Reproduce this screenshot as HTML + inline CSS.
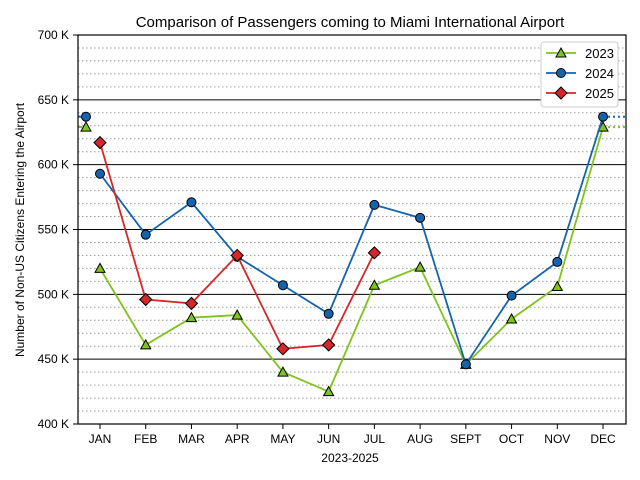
<!DOCTYPE html>
<html><head><meta charset="utf-8"><style>
body{margin:0;background:#fff;}
svg{display:block;font-family:"Liberation Sans",sans-serif;}
</style></head><body>
<svg id="chart" width="640" height="480" xmlns="http://www.w3.org/2000/svg">
<rect width="640" height="480" fill="#fff"/>
<text x="350" y="27" text-anchor="middle" font-size="15">Comparison of Passengers coming to Miami International Airport</text>
<text x="350" y="462" text-anchor="middle" font-size="12">2023-2025</text>
<text transform="translate(24,230) rotate(-90)" text-anchor="middle" font-size="12">Number of Non-US Citizens Entering the Airport</text>
<g id="grid"></g><g id="series"></g><g id="axes"></g>
<g>
<rect x="541" y="42" width="77" height="65" rx="3" fill="#fff" stroke="#ccc"/>
<line x1="546" y1="53" x2="576" y2="53" stroke="#7fc31c" stroke-width="1.8"/>
<path d="M561,48 L566,57 L556,57 Z" fill="#7fc31c" stroke="#000" stroke-width="1"/>
<text x="585" y="58" font-size="13">2023</text>
<line x1="546" y1="73" x2="576" y2="73" stroke="#1563ad" stroke-width="1.8"/>
<circle cx="561" cy="73" r="4.5" fill="#1563ad" stroke="#000"/>
<text x="585" y="78" font-size="13">2024</text>
<line x1="546" y1="93" x2="576" y2="93" stroke="#d62728" stroke-width="1.8"/>
<path d="M561,87 L567,93 L561,99 L555,93 Z" fill="#d62728" stroke="#000"/>
<text x="585" y="98" font-size="13">2025</text>
</g>
</svg>
<script>
const months=["JAN","FEB","MAR","APR","MAY","JUN","JUL","AUG","SEPT","OCT","NOV","DEC"];
const v2023=[520,461,482,484,440,425,507,521,446,481,506,629];
const v2024=[593,546,571,529,507,485,569,559,446,499,525,637];
const v2025=[617,496,493,530,458,461,532];
const yTicks=[400,450,500,550,600,650,700];
const NS="http://www.w3.org/2000/svg";
const L=78,R=626,T=35,B=424,x0=100,step=45.73;
const x=i=>x0+i*step;
const y=v=>B-(v-400)/300*(B-T);
function el(p,t,a){const e=document.createElementNS(NS,t);for(const k in a)e.setAttribute(k,a[k]);p.appendChild(e);return e;}
const grid=document.getElementById('grid'),axes=document.getElementById('axes'),ser=document.getElementById('series');
for(let v=410;v<700;v+=10){if(v%50===0)continue;const g=el(grid,'line',{x1:L,x2:R,y1:y(v),y2:y(v),stroke:'#999','stroke-dasharray':'1.5,2.5','stroke-width':1});

}
yTicks.forEach(v=>{const g=el(grid,'line',{x1:L,x2:R,y1:y(v),y2:y(v),stroke:'#000','stroke-width':1});


el(axes,'line',{x1:L-5,x2:L,y1:y(v),y2:y(v),stroke:'#000'});
const t=el(axes,'text',{x:L-9,y:y(v)+4,'text-anchor':'end','font-size':12});t.textContent=v+' K';

});
months.forEach((m,i)=>{el(axes,'line',{x1:x(i),x2:x(i),y1:B,y2:B+5,stroke:'#000'});
const t=el(axes,'text',{x:x(i),y:B+19,'text-anchor':'middle','font-size':12});t.textContent=m;

});
const fr=el(axes,'rect',{x:L,y:T,width:R-L,height:B-T,fill:'none',stroke:'#000','stroke-width':1.2});


function marker(g,kind,cx,cy,col){
 if(kind==='tri')return el(g,'path',{d:`M${cx},${cy-5} L${cx+5},${cy+4} L${cx-5},${cy+4} Z`,fill:col,stroke:'#000'});
 if(kind==='circ')return el(g,'circle',{cx,cy,r:4.5,fill:col,stroke:'#000'});
 return el(g,'path',{d:`M${cx},${cy-6} L${cx+6},${cy} L${cx},${cy+6} L${cx-6},${cy} Z`,fill:col,stroke:'#000'});
}
function series(name,vals,col,kind,wrap){
 const g=el(ser,'g',{});
 
 
 if(wrap){const last=vals[vals.length-1];
  el(g,'line',{x1:x(11),x2:R,y1:y(last),y2:y(last),stroke:col,'stroke-width':2,'stroke-dasharray':'2,3'});
  el(g,'line',{x1:L,x2:L+4,y1:y(last),y2:y(last),stroke:col,'stroke-width':2});}
 el(g,'polyline',{points:vals.map((v,i)=>x(i)+','+y(v)).join(' '),fill:'none',stroke:col,'stroke-width':1.8});
 vals.forEach((v,i)=>{const m=marker(g,kind,x(i),y(v),col);
  
  });
 if(wrap){const m=marker(g,kind,86,y(vals[11]),col);
  
  }
}
series('2023',v2023,'#7fc31c','tri',true);
series('2024',v2024,'#1563ad','circ',true);
series('2025',v2025,'#d62728','dia',false);
</script>
</body></html>
